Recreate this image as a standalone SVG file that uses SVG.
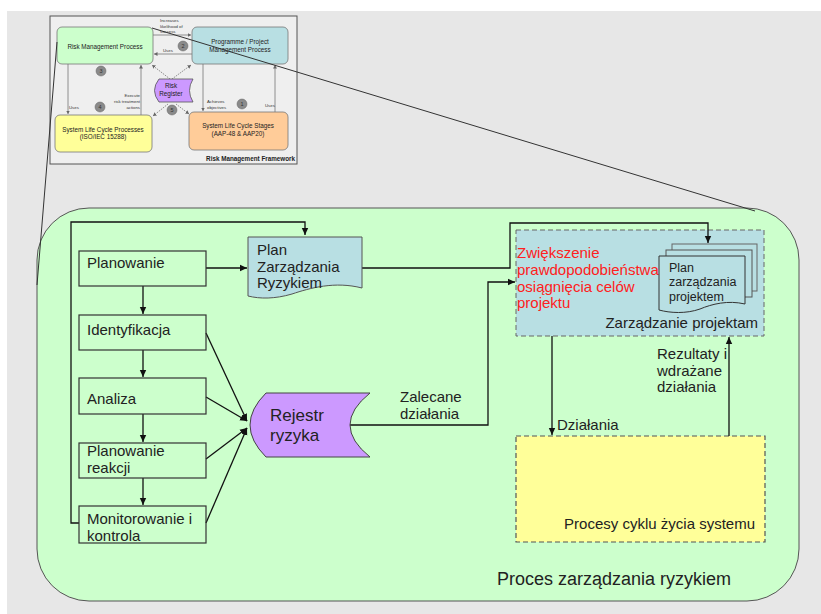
<svg xmlns="http://www.w3.org/2000/svg" width="821" height="614" viewBox="0 0 821 614">
<defs>
<marker id="ah" markerWidth="8" markerHeight="8" refX="7" refY="4" orient="auto" markerUnits="userSpaceOnUse"><path d="M0,0.8 L7,4 L0,7.2 Z" fill="#111"/></marker>
<marker id="sh" markerWidth="4" markerHeight="4" refX="3.5" refY="2" orient="auto" markerUnits="userSpaceOnUse"><path d="M0,0 L3.5,2 L0,4 Z" fill="#666"/></marker>
</defs>
<style>
.t{font-family:"Liberation Sans",Arial,sans-serif;fill:#222}
.m{font-size:15px}
.red{fill:#ff2020}
.box{fill:none;stroke:#333;stroke-width:1.2}
.c{fill:none;stroke:#111;stroke-width:1.3}
.ic{fill:none;stroke:#777;stroke-width:0.8}
.it{font-family:"Liberation Sans",Arial,sans-serif;fill:#222;font-size:6.3px;text-anchor:middle}
.il{font-family:"Liberation Sans",Arial,sans-serif;fill:#333;font-size:4.3px}
.num{fill:#8a8a8a;stroke:#666;stroke-width:0.5}
.nt{font-family:"Liberation Sans",Arial,sans-serif;fill:#333;font-size:5.5px;text-anchor:middle}
</style>
<rect x="7" y="11" width="814" height="603" fill="#e7e7e7"/>

<!-- Inset: Risk Management Framework -->
<g id="inset">
<rect x="50" y="16" width="247" height="148" fill="#efefef" stroke="#555" stroke-width="1"/>
<g id="inset-connectors">
<line class="ic" x1="153" y1="35" x2="191" y2="35" marker-end="url(#sh)"/>
<line class="ic" x1="192" y1="54" x2="154" y2="54" marker-end="url(#sh)"/>
<line class="ic" x1="68" y1="64" x2="68" y2="114" marker-end="url(#sh)"/>
<line class="ic" x1="141" y1="115" x2="141" y2="65" marker-end="url(#sh)"/>
<line class="ic" x1="203" y1="64" x2="203" y2="111" marker-end="url(#sh)"/>
<line class="ic" x1="275" y1="112" x2="275" y2="65" marker-end="url(#sh)"/>
<line class="ic" x1="170" y1="79" x2="152" y2="65" marker-end="url(#sh)" stroke-dasharray="1.5,1"/>
<line class="ic" x1="172" y1="79" x2="191" y2="65" marker-end="url(#sh)" stroke-dasharray="1.5,1"/>
<line class="ic" x1="168" y1="104" x2="153" y2="116" marker-end="url(#sh)" stroke-dasharray="1.5,1"/>
<line class="ic" x1="176" y1="104" x2="189" y2="114" marker-end="url(#sh)" stroke-dasharray="1.5,1"/>
</g>
<g id="inset-rmp"><rect x="57" y="27" width="96" height="37" rx="5" fill="#ccffcc" stroke="#777" stroke-width="0.8"/><text class="it" x="105" y="49">Risk Management Process</text></g>
<g id="inset-ppmp"><rect x="192" y="27" width="96" height="37" rx="5" fill="#b8dfe3" stroke="#777" stroke-width="0.8"/><text class="it" x="240" y="44">Programme / Project</text><text class="it" x="240" y="52">Management Process</text></g>
<g id="inset-rr"><path d="M159,79 H193 Q186,90.5 193,102 H159 Q150,90.5 159,79 Z" fill="#cc99ff" stroke="#555" stroke-width="0.8"/><text class="it" x="171" y="88">Risk</text><text class="it" x="171" y="96">Register</text></g>
<g id="inset-slcp"><rect x="55" y="115" width="97" height="37" rx="5" fill="#ffff99" stroke="#777" stroke-width="0.8"/><text class="it" x="103" y="132">System Life Cycle Processes</text><text class="it" x="103" y="139">(ISO/IEC 15288)</text></g>
<g id="inset-slcs"><rect x="189" y="112" width="99" height="38" rx="5" fill="#ffcc99" stroke="#777" stroke-width="0.8"/><text class="it" x="238" y="128">System Life Cycle Stages</text><text class="it" x="238" y="136">(AAP-48 &amp; AAP20)</text></g>
<g id="inset-labels">
<text class="il" x="160" y="22">Increases</text><text class="il" x="160" y="27.5">likelihood of</text><text class="il" x="160" y="33">success</text>
<text class="il" x="163" y="52">Uses</text>
<text class="il" x="140" y="97" text-anchor="end">Execute</text><text class="il" x="140" y="103" text-anchor="end">risk treatment</text><text class="il" x="140" y="109" text-anchor="end">actions</text>
<text class="il" x="69" y="109">Uses</text>
<text class="il" x="207" y="103">Achieves</text><text class="il" x="207" y="109">objectives</text>
<text class="il" x="265" y="107">Uses</text>
</g>
<g id="inset-numbers">
<circle class="num" cx="183" cy="46" r="5"/><text class="nt" x="183" y="48">2</text>
<circle class="num" cx="101" cy="71" r="5"/><text class="nt" x="101" y="73">3</text>
<circle class="num" cx="100" cy="107" r="5"/><text class="nt" x="100" y="109">4</text>
<circle class="num" cx="172" cy="110" r="5"/><text class="nt" x="172" y="112">5</text>
<circle class="num" cx="242" cy="104" r="5"/><text class="nt" x="242" y="106">1</text>
</g>
<text x="295" y="161" text-anchor="end" font-family="Liberation Sans, Arial, sans-serif" font-size="6.3" font-weight="bold" fill="#222">Risk Management Framework</text>
</g>

<!-- Main frame -->
<g id="frame">
<rect x="37" y="208" width="762" height="393" rx="52" fill="#ccffcc" stroke="#555" stroke-width="1"/>
<text class="t" x="497" y="585" font-size="18">Proces zarządzania ryzykiem</text>
</g>

<!-- zoom lines -->
<g id="zoom-lines">
<line x1="57" y1="42" x2="37" y2="285" stroke="#333" stroke-width="1"/>
<line x1="152" y1="28" x2="755" y2="211" stroke="#333" stroke-width="1"/>
</g>

<g id="pm">
<rect x="516" y="230" width="248" height="106" fill="#b8dfe3" stroke="#666" stroke-width="1" stroke-dasharray="5,3"/>
<text class="t m" x="758" y="328" text-anchor="end">Zarządzanie projektam</text>
</g>
<g id="slc">
<rect x="516" y="436" width="249" height="106" fill="#ffff99" stroke="#555" stroke-width="1.2" stroke-dasharray="5,3"/>
<text class="t m" x="755" y="529" text-anchor="end">Procesy cyklu życia systemu</text>
</g>

<g id="connectors">
<polyline class="c" points="79,523 71,523 71,222 305,222 305,235" marker-end="url(#ah)"/>
<line class="c" x1="206" y1="268" x2="247" y2="268" marker-end="url(#ah)"/>
<line class="c" x1="143" y1="286" x2="143" y2="314" marker-end="url(#ah)"/>
<line class="c" x1="143" y1="350" x2="143" y2="377" marker-end="url(#ah)"/>
<line class="c" x1="143" y1="414" x2="143" y2="442" marker-end="url(#ah)"/>
<line class="c" x1="143" y1="478" x2="143" y2="505" marker-end="url(#ah)"/>
<line class="c" x1="206" y1="333" x2="247" y2="421" marker-end="url(#ah)"/>
<line class="c" x1="206" y1="397" x2="247" y2="421" marker-end="url(#ah)"/>
<line class="c" x1="206" y1="459" x2="247" y2="428" marker-end="url(#ah)"/>
<line class="c" x1="206" y1="523" x2="247" y2="428" marker-end="url(#ah)"/>
<polyline class="c" points="362,268 510,268 510,223 708,223 708,243" marker-end="url(#ah)"/>
<polyline class="c" points="350,425 488,425 488,282 515,282" marker-end="url(#ah)"/>
<line class="c" x1="552" y1="336" x2="552" y2="435" marker-end="url(#ah)"/>
<line class="c" x1="729" y1="436" x2="729" y2="337" marker-end="url(#ah)"/>
</g>

<g id="n-planowanie"><rect class="box" x="79" y="251" width="127" height="35"/><text class="t m" x="87" y="268">Planowanie</text></g>
<g id="n-identyfikacja"><rect class="box" x="79" y="315" width="127" height="35"/><text class="t m" x="87" y="335">Identyfikacja</text></g>
<g id="n-analiza"><rect class="box" x="79" y="378" width="127" height="36"/><text class="t m" x="87" y="404">Analiza</text></g>
<g id="n-reakcja"><rect class="box" x="79" y="443" width="127" height="35"/><text class="t m" x="87" y="456">Planowanie</text><text class="t m" x="87" y="473">reakcji</text></g>
<g id="n-monitorowanie"><rect class="box" x="79" y="506" width="127" height="37"/><text class="t m" x="87" y="524">Monitorowanie i</text><text class="t m" x="87" y="541">kontrola</text></g>

<g id="n-plan-ryzyka">
<path d="M248,237 H362 V288 C335,281 310,288 292,294 C275,299 260,299 248,296 Z" fill="#b8dfe3" stroke="#555" stroke-width="1"/>
<text class="t m" x="257" y="255">Plan</text><text class="t m" x="257" y="271.5">Zarządzania</text><text class="t m" x="257" y="288">Ryzykiem</text>
</g>

<g id="n-rejestr">
<path d="M266,393 H370 Q330,425 370,457 H266 Q234,425 266,393 Z" fill="#cc99ff" stroke="#444" stroke-width="1"/>
<text class="t" x="270" y="421" font-size="17">Rejestr</text><text class="t" x="270" y="441" font-size="17">ryzyka</text>
</g>

<g id="n-cel">
<text class="t m red" x="517" y="258">Zwiększenie</text>
<text class="t m red" x="517" y="275">prawdopodobieństwa</text>
<text class="t m red" x="517" y="292">osiągnięcia celów</text>
<text class="t m red" x="517" y="308">projektu</text>
</g>

<g id="n-plan-projektu">
<rect x="672" y="244" width="85" height="47" fill="#b8dfe3" stroke="#666" stroke-width="1"/>
<rect x="666" y="250" width="86" height="47" fill="#b8dfe3" stroke="#555" stroke-width="1"/>
<path d="M659,256 H745 V304 C728,300 712,304 700,309 C686,314 670,313 659,310 Z" fill="#b8dfe3" stroke="#333" stroke-width="1"/>
<text class="t" x="669" y="272" font-size="12.5">Plan</text><text class="t" x="669" y="286" font-size="12.5">zarządzania</text><text class="t" x="669" y="301" font-size="12.5">projektem</text>
</g>

<g id="labels">
<text class="t m" x="400" y="402">Zalecane</text><text class="t m" x="400" y="419">działania</text>
<text class="t m" x="557" y="430">Działania</text>
<text class="t m" x="657" y="359">Rezultaty i</text><text class="t m" x="657" y="376">wdrażane</text><text class="t m" x="657" y="392">działania</text>
</g>
</svg>
